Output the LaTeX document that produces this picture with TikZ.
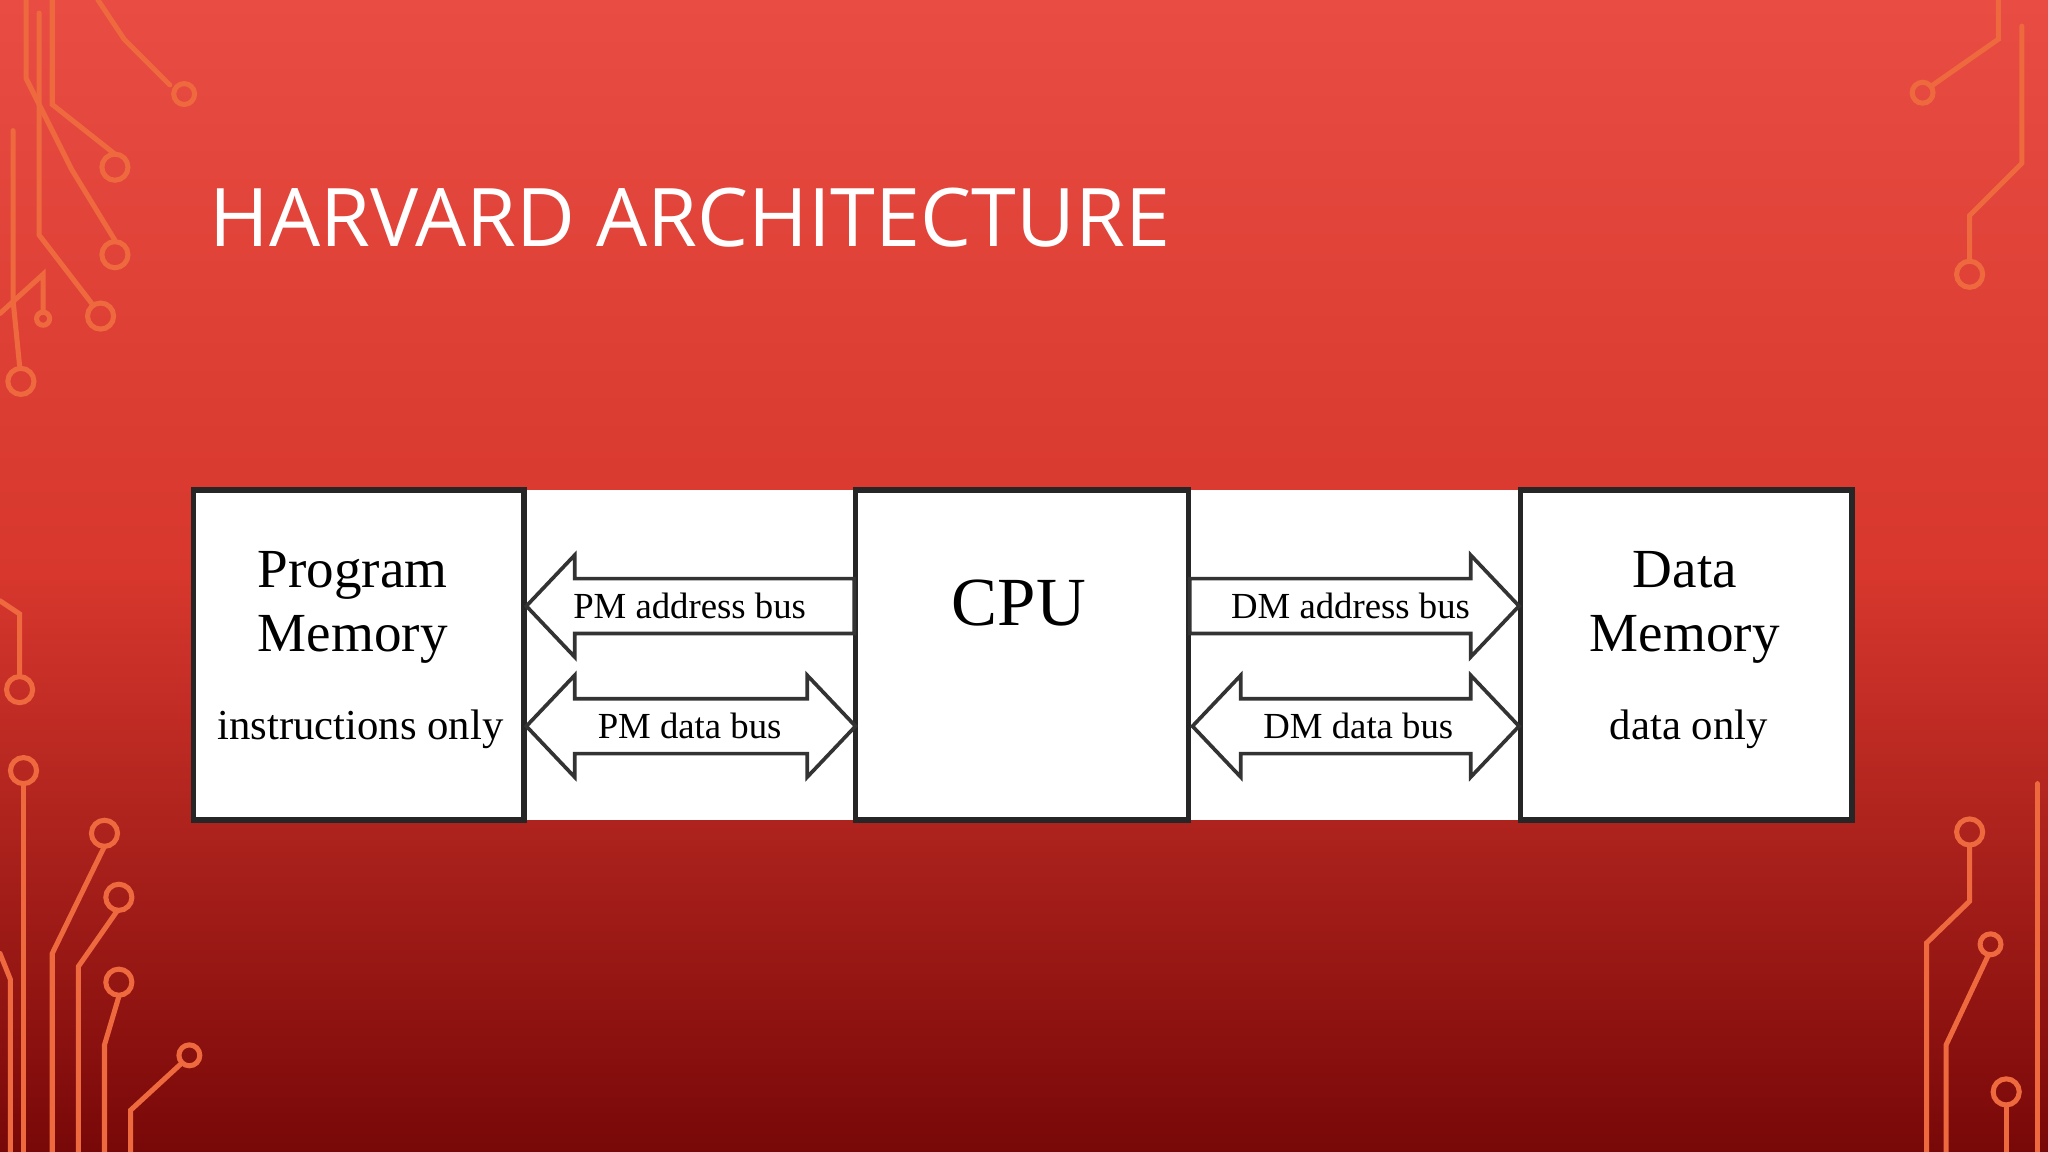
\documentclass[tikz,border=0pt]{standalone}
\usepackage{fontspec}
\setmainfont{Liberation Serif}
\newfontfamily\titlefont{Open Sans}
\definecolor{deco}{RGB}{238,105,62}
\begin{document}
\begin{tikzpicture}[x=0.01cm,y=-0.01cm,
  box/.style={draw=black!85,line width=1.2pt,fill=white},
  bus/.style={draw=black!80,line width=0.8pt,fill=white},
  lbl/.style={font=\fontsize{8}{9}\selectfont},
  circ/.style={draw=deco,line width=1.1pt},
  dec/.style={circ,line cap=round}]
\useasboundingbox (0,0) rectangle (1568,882);
\shade[top color={rgb,255:red,232;green,76;blue,66}, bottom color={rgb,255:red,120;green,8;blue,8}, middle color={rgb,255:red,215;green,55;blue,45}] (0,0) rectangle (1568,882);
% circuit decorations left
\draw[dec] (75,0)--(95,30)--(130,65); \draw[circ] (141,72) circle (8);
\draw[dec] (40,0)--(40,80)--(88,118); \draw[circ] (88,128) circle (10);
\draw[dec] (20,0)--(20,60)--(55,130)--(88,184); \draw[circ] (88,195) circle (10);
\draw[dec] (30,10)--(30,180)--(70,232); \draw[circ] (77,242) circle (10);
\draw[dec] (10,100)--(10,230)--(15,280); \draw[circ] (16,292) circle (10);
\draw[dec] (0,240)--(33,210)--(33,238); \draw[circ] (33,244) circle (5);
\draw[dec] (0,460)--(15,470)--(15,518); \draw[circ] (15,528) circle (10);
\draw[dec] (18,600)--(18,882); \draw[circ] (18,590) circle (10);
\draw[dec] (80,648)--(40,730)--(40,882); \draw[circ] (80,638) circle (10);
\draw[dec] (90,697)--(60,740)--(60,882); \draw[circ] (91,687) circle (10);
\draw[dec] (91,763)--(80,800)--(80,882); \draw[circ] (91,752) circle (10);
\draw[dec] (138,815)--(100,850)--(100,882); \draw[circ] (145,808) circle (8);
\draw[dec] (0,730)--(8,750)--(8,882);
% right
\draw[dec] (1530,0)--(1530,30)--(1480,65); \draw[circ] (1472,71) circle (8);
\draw[dec] (1548,20)--(1548,125)--(1508,165)--(1508,200); \draw[circ] (1508,210) circle (10);
\draw[dec] (1508,648)--(1508,690)--(1475,722)--(1475,882); \draw[circ] (1508,637) circle (10);
\draw[dec] (1522,732)--(1490,800)--(1490,882); \draw[circ] (1524,723) circle (8);
\draw[dec] (1536,848)--(1536,882); \draw[circ] (1536,836) circle (10);
\draw[dec] (1560,600)--(1560,882);
% title
\node[anchor=west,text=white,inner sep=0,font=\titlefont\fontsize{17.6}{20}\selectfont] (title) at (160,167) {HARVARD ARCHITECTURE};
% panel
\fill[white] (148,375) rectangle (1418,628);
\draw[box] (148,375) rectangle (401,628);
\draw[box] (655,375) rectangle (910,628);
\draw[box] (1164,375) rectangle (1418,628);
\node[font=\fontsize{12}{13}\selectfont,align=center] (pmt) at (270,465) {Program\\[1pt]Memory};
\node[font=\fontsize{9.3}{11}\selectfont] (pmi) at (276,558) {instructions only};
\node[font=\fontsize{15}{16}\selectfont] (cpu) at (780,462) {CPU};
\node[font=\fontsize{12}{13}\selectfont,align=center] (dmt) at (1290,465) {Data\\[1pt]Memory};
\node[font=\fontsize{9.3}{11}\selectfont] (dmi) at (1293,558) {data only};
% buses
\draw[bus] (654,443)--(440,443)--(440,425)--(403,464)--(440,503)--(440,485)--(654,485)--cycle;
\draw[bus] (440,535)--(618,535)--(618,517)--(655,556)--(618,595)--(618,577)--(440,577)--(440,595)--(403,556)--(440,517)--cycle;
\draw[bus] (911,443)--(1126,443)--(1126,425)--(1163,464)--(1126,503)--(1126,485)--(911,485)--cycle;
\draw[bus] (950,535)--(1126,535)--(1126,517)--(1163,556)--(1126,595)--(1126,577)--(950,577)--(950,595)--(913,556)--(950,517)--cycle;
\node[lbl] (pa) at (528,464) {PM address bus};
\node[lbl] (pd) at (528,556) {PM data bus};
\node[lbl] (da) at (1034,464) {DM address bus};
\node[lbl] (dd) at (1040,556) {DM data bus};
\end{tikzpicture}
\end{document}
